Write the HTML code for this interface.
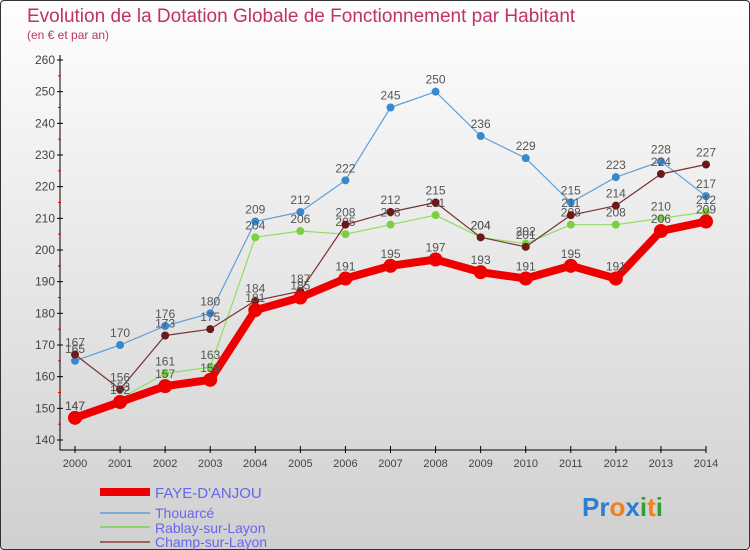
<!DOCTYPE html>
<html><head><meta charset="utf-8"><style>
html,body{margin:0;padding:0}
body{width:750px;height:550px;overflow:hidden;font-family:"Liberation Sans",sans-serif}
#wrap{position:absolute;left:0;top:0;width:748px;height:548px;border:1px solid #333;border-radius:4px;background:linear-gradient(#fefefe,#d0d0d0)}
</style></head><body>
<div id="wrap">
<svg id="chart" width="750" height="550" style="position:absolute;left:-1px;top:-1px">
<text x="27" y="22" font-size="19" fill="#c0306a">Evolution de la Dotation Globale de Fonctionnement par Habitant</text>
<text x="27" y="39" font-size="12" fill="#c0306a">(en € et par an)</text>
<g id="axes"></g><g id="series"></g>
<g>
<line x1="100" y1="492" x2="150" y2="492" stroke="#e00" stroke-width="8"/>
<text x="155" y="498" font-size="15" fill="#6666ee">FAYE-D'ANJOU</text>
<line x1="100" y1="513" x2="150" y2="513" stroke="#7aaed0" stroke-width="2"/>
<text x="155" y="518" font-size="14" fill="#6666ee">Thouarcé</text>
<line x1="100" y1="527" x2="150" y2="527" stroke="#90d070" stroke-width="2"/>
<text x="155" y="533" font-size="14" fill="#6666ee">Rablay-sur-Layon</text>
<line x1="100" y1="542" x2="150" y2="542" stroke="#a06060" stroke-width="2"/>
<text x="155" y="547" font-size="14" fill="#6666ee">Champ-sur-Layon</text>
</g>
<text x="582" y="516" font-size="26" font-weight="bold"><tspan fill="#2a7fd0">Pr</tspan><tspan fill="#f08020">o</tspan><tspan fill="#2a7fd0">x</tspan><tspan fill="#30a030">i</tspan><tspan fill="#f08020">t</tspan><tspan fill="#30a030">i</tspan></text>
</svg></div>
<script>
const years=[2000,2001,2002,2003,2004,2005,2006,2007,2008,2009,2010,2011,2012,2013,2014];
const faye=[147,152,157,159,181,185,191,195,197,193,191,195,191,206,209];
const thouarce=[165,170,176,180,209,212,222,245,250,236,229,215,223,228,217];
const rablay=[147,153,161,163,204,206,205,208,211,204,202,208,208,210,212];
const champ=[167,156,173,175,184,187,208,212,215,204,201,211,214,224,227];
const yTicks=[140,150,160,170,180,190,200,210,220,230,240,250,260];
const NS="http://www.w3.org/2000/svg";
const X=i=>75+i*(706-75)/14;
const Y=v=>440-(v-140)*380/120;
function mk(tag,attrs,parent){const e=document.createElementNS(NS,tag);for(const k in attrs)e.setAttribute(k,attrs[k]);parent.appendChild(e);return e;}
const ax=document.getElementById('axes');
const yl=mk('line',{x1:60,y1:55,x2:60,y2:450,stroke:'#000'},ax);


const xl=mk('line',{x1:60,y1:450,x2:706,y2:450,stroke:'#000'},ax);


yTicks.forEach((t,i)=>{
  mk('line',{x1:57,y1:Y(t),x2:63,y2:Y(t),stroke:'#000'},ax);
  if(i<yTicks.length-1)mk('line',{x1:58,y1:Y(t+5),x2:61,y2:Y(t+5),stroke:'#e00'},ax);
  const tx=mk('text',{x:55,y:Y(t)+4,'font-size':12,fill:'#444','text-anchor':'end'},ax);
  tx.textContent=t;
  
  
});
years.forEach((yr,i)=>{
  mk('line',{x1:X(i),y1:446,x2:X(i),y2:453,stroke:'#000'},ax);
  const tx=mk('text',{x:X(i),y:467,'font-size':11,fill:'#444','text-anchor':'middle'},ax);
  tx.textContent=yr;
  
  
});
const sg=document.getElementById('series');
function draw(data,color,w,r,dot,name){
  const g=mk('g',{},sg);
  
  
  mk('polyline',{points:data.map((v,i)=>X(i)+','+Y(v)).join(' '),fill:'none',stroke:color,'stroke-width':w,'stroke-linejoin':'round'},g);
  data.forEach((v,i)=>{
    const c=mk('circle',{cx:X(i),cy:Y(v),r:r,fill:dot},g);
    
    
    const t=mk('text',{x:X(i),y:Y(v)-8,'font-size':12,fill:'#555','text-anchor':'middle'},g);
    t.textContent=v;
  });
}
draw(thouarce,'#5fa0d8',1.2,4,'#3a88cc','thouarce');
draw(rablay,'#90dd60',1.2,4,'#7ad040','rablay');
draw(champ,'#7a3030',1.2,4,'#6a1a1a','champ');
draw(faye,'#ee0000',8,7,'#ee0000','faye');
</script>
</body></html>
